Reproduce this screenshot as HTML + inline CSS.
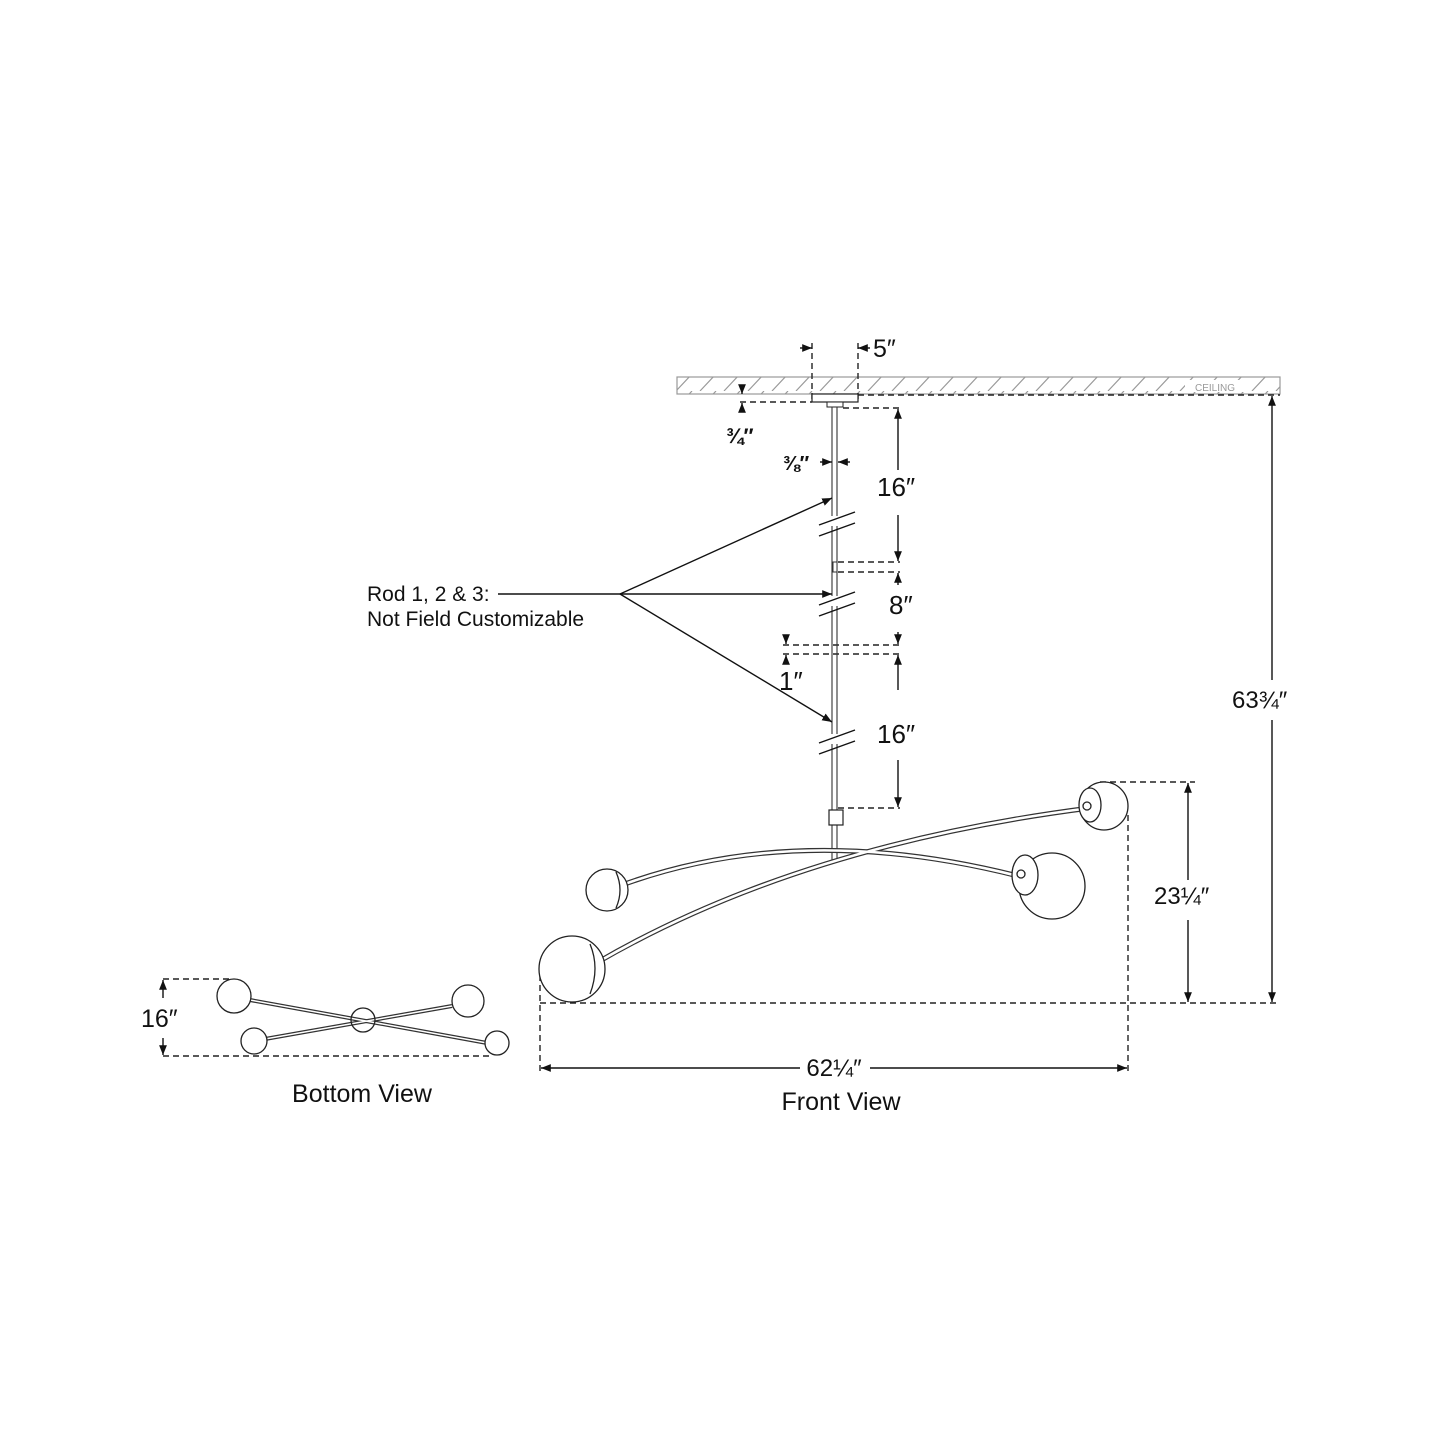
<!DOCTYPE html>
<html><head><style>html,body{margin:0;padding:0;background:#fff}svg{display:block}</style></head><body>
<svg width="1445" height="1445" viewBox="0 0 1445 1445" xmlns="http://www.w3.org/2000/svg">
<defs>
<marker id="ah" viewBox="0 0 10 10" refX="10" refY="5" markerWidth="7" markerHeight="7" orient="auto-start-reverse"><path d="M0,1 L10,5 L0,9 z" fill="#111"/></marker>
<pattern id="hatch" width="24" height="17" patternUnits="userSpaceOnUse"><line x1="4" y1="17" x2="20" y2="0" stroke="#999" stroke-width="1.2"/></pattern>
</defs>
<g font-family="Liberation Sans, sans-serif" fill="#111">
<rect x="677" y="377" width="603" height="17" fill="url(#hatch)" stroke="#999" stroke-width="1.2"/>
<rect x="1185" y="380" width="60" height="12" fill="#fff"/>
<text x="1215" y="391" font-size="10" fill="#999" text-anchor="middle">CEILING</text>
<g stroke="#222" stroke-width="1.4" fill="none" stroke-dasharray="6,4">
<line x1="812" y1="343" x2="812" y2="402"/><line x1="858" y1="343" x2="858" y2="402"/>
<line x1="858" y1="395" x2="1280" y2="395"/>
<line x1="740" y1="402" x2="812" y2="402"/>
<line x1="843" y1="408" x2="900" y2="408"/>
<line x1="838" y1="562" x2="900" y2="562"/><line x1="838" y1="572" x2="900" y2="572"/>
<line x1="783" y1="645" x2="900" y2="645"/><line x1="783" y1="654" x2="900" y2="654"/>
<line x1="838" y1="808" x2="900" y2="808"/>
<line x1="1100" y1="782" x2="1195" y2="782"/>
<line x1="540" y1="1003" x2="1280" y2="1003"/>
<line x1="540" y1="975" x2="540" y2="1072"/>
<line x1="1128" y1="815" x2="1128" y2="1072"/>
<line x1="163" y1="979" x2="232" y2="979"/>
<line x1="163" y1="1056" x2="490" y2="1056"/>
</g>
<rect x="812" y="394" width="46" height="8" fill="#fff" stroke="#222" stroke-width="1.2"/>
<rect x="827" y="402" width="16" height="5" fill="#fff" stroke="#222" stroke-width="1"/>
<g stroke="#333" stroke-width="1.1">
<line x1="832" y1="407" x2="832" y2="862"/><line x1="837" y1="407" x2="837" y2="862"/>
</g>
<rect x="833" y="562" width="4" height="10" fill="#fff" stroke="#333"/>
<rect x="829" y="810" width="14" height="15" fill="#fff" stroke="#222" stroke-width="1.2"/>
<rect x="829" y="516" width="11" height="10" fill="#fff"/>
<rect x="829" y="596" width="11" height="10" fill="#fff"/>
<rect x="829" y="734" width="11" height="10" fill="#fff"/>
<g stroke="#111" stroke-width="1.4">
<line x1="819" y1="525" x2="855" y2="512"/><line x1="819" y1="536" x2="855" y2="523"/>
<line x1="819" y1="605" x2="855" y2="592"/><line x1="819" y1="616" x2="855" y2="603"/>
<line x1="819" y1="743" x2="855" y2="730"/><line x1="819" y1="754" x2="855" y2="741"/>
</g>
<g stroke="#111" stroke-width="1.4" fill="none" marker-end="url(#ah)">
<line x1="800" y1="348" x2="812" y2="348"/><line x1="870" y1="348" x2="858" y2="348"/>
<line x1="742" y1="385" x2="742" y2="394"/><line x1="742" y1="412" x2="742" y2="403"/>
<line x1="820" y1="462" x2="832" y2="462"/><line x1="850" y1="462" x2="838" y2="462"/>
<line x1="898" y1="470" x2="898" y2="409"/><line x1="898" y1="515" x2="898" y2="561"/>
<line x1="898" y1="585" x2="898" y2="573"/><line x1="898" y1="632" x2="898" y2="644"/>
<line x1="898" y1="690" x2="898" y2="655"/><line x1="898" y1="760" x2="898" y2="807"/>
<line x1="786" y1="636" x2="786" y2="644"/><line x1="786" y1="663" x2="786" y2="655"/>
<line x1="1272" y1="680" x2="1272" y2="396"/><line x1="1272" y1="720" x2="1272" y2="1002"/>
<line x1="1188" y1="880" x2="1188" y2="783"/><line x1="1188" y1="920" x2="1188" y2="1002"/>
<line x1="800" y1="1068" x2="541" y2="1068"/><line x1="870" y1="1068" x2="1127" y2="1068"/>
<line x1="163" y1="998" x2="163" y2="980"/><line x1="163" y1="1038" x2="163" y2="1055"/>
<line x1="620" y1="594" x2="832" y2="498"/><line x1="620" y1="594" x2="832" y2="594"/><line x1="620" y1="594" x2="832" y2="722"/>
</g>
<line x1="498" y1="594" x2="620" y2="594" stroke="#111" stroke-width="1.4"/>
<g fill="none" stroke="#333" stroke-width="5"><path d="M622,885 Q800,820 1022,877"/><path d="M598,962 Q800,845 1090,808"/></g>
<g fill="none" stroke="#fff" stroke-width="2.6"><path d="M622,885 Q800,820 1022,877"/><path d="M598,962 Q800,845 1090,808"/></g>
<g fill="#fff" stroke="#222" stroke-width="1.3">
<circle cx="607" cy="890" r="21"/><path d="M616,872 q8,18 0,36" />
<circle cx="1052" cy="886" r="33"/><ellipse cx="1025" cy="875" rx="13" ry="20"/><circle cx="1021" cy="874" r="4"/>
<circle cx="1104" cy="806" r="24"/><ellipse cx="1090" cy="805" rx="11" ry="17"/><circle cx="1087" cy="806" r="4"/>
<circle cx="572" cy="969" r="33"/><path d="M590,944 q10,24 0,50"/>
</g>
<g stroke="#333" stroke-width="4"><line x1="250" y1="1000" x2="487" y2="1043"/><line x1="265" y1="1039" x2="452" y2="1006"/></g>
<g stroke="#fff" stroke-width="1.5"><line x1="250" y1="1000" x2="487" y2="1043"/><line x1="265" y1="1039" x2="452" y2="1006"/></g>
<g fill="#fff" stroke="#222" stroke-width="1.3">
<circle cx="234" cy="996" r="17"/><circle cx="468" cy="1001" r="16"/><circle cx="254" cy="1041" r="13"/><circle cx="497" cy="1043" r="12"/>
</g>
<circle cx="363" cy="1020" r="12" fill="none" stroke="#222" stroke-width="1.3"/>
<text x="873" y="357" font-size="25">5″</text>
<text x="726" y="443" font-size="21" font-weight="bold">¾″</text>
<text x="783" y="470" font-size="20" font-weight="bold">⅜″</text>
<text x="877" y="496" font-size="26">16″</text>
<text x="889" y="614" font-size="26">8″</text>
<text x="779" y="690" font-size="26">1″</text>
<text x="877" y="743" font-size="26">16″</text>
<text x="1232" y="708" font-size="24">63¾″</text>
<text x="1154" y="904" font-size="24">23¼″</text>
<text x="834" y="1076" font-size="24" text-anchor="middle">62¼″</text>
<text x="841" y="1110" font-size="25" text-anchor="middle">Front View</text>
<text x="141" y="1027" font-size="25">16″</text>
<text x="362" y="1102" font-size="25" text-anchor="middle">Bottom View</text>
<text x="367" y="601" font-size="21">Rod 1, 2 &amp; 3:</text>
<text x="367" y="626" font-size="21">Not Field Customizable</text>
</g>
</svg>
</body></html>
